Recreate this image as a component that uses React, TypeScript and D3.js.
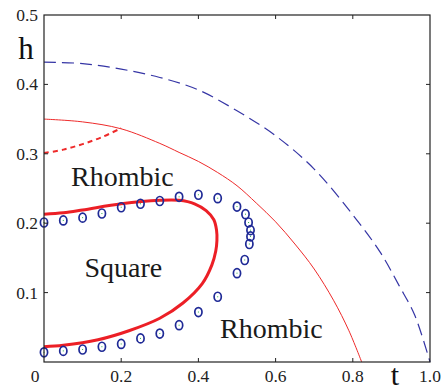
import React from 'react';
import * as d3 from 'd3';

type Pt = [number, number];

// boundaries, as [t, h]
const outerDashed: Pt[] = [
	[0, 0.432], [0.1, 0.430], [0.2, 0.422], [0.3, 0.410], [0.4, 0.392], [0.5, 0.362],
	[0.6, 0.326], [0.7, 0.278], [0.8, 0.212], [0.87, 0.159], [0.92, 0.11], [0.96, 0.068], [1.0, 0],
];

const thinRed: Pt[] = [
	[0, 0.350], [0.1, 0.346], [0.2, 0.336], [0.3, 0.315], [0.35, 0.302], [0.4, 0.289],
	[0.45, 0.273], [0.5, 0.254], [0.55, 0.229], [0.6, 0.202], [0.65, 0.170], [0.7, 0.134],
	[0.75, 0.089], [0.79, 0.045], [0.823, 0],
];

const shortDashed: Pt[] = [
	[0, 0.301], [0.05, 0.306], [0.1, 0.314], [0.15, 0.324], [0.2, 0.337],
];

const squareBoundary: Pt[] = [
	[0, 0.213], [0.05, 0.215], [0.1, 0.219], [0.2, 0.228], [0.3, 0.233], [0.35, 0.233],
	[0.39, 0.228], [0.42, 0.218], [0.44, 0.205], [0.447, 0.19], [0.448, 0.175], [0.445, 0.16],
	[0.435, 0.14], [0.41, 0.113], [0.36, 0.085], [0.3, 0.063], [0.22, 0.045], [0.14, 0.032],
	[0.05, 0.024], [0, 0.022],
];

const circles: Pt[] = [
	[0, 0.014], [0.05, 0.016], [0.1, 0.018], [0.15, 0.022], [0.2, 0.026], [0.25, 0.034],
	[0.3, 0.041], [0.35, 0.053], [0.4, 0.072], [0.45, 0.094], [0.5, 0.128], [0.52, 0.147],
	[0.532, 0.170], [0.535, 0.181], [0.535, 0.190], [0.53, 0.201], [0.522, 0.213], [0.5, 0.224],
	[0.45, 0.236], [0.4, 0.241], [0.35, 0.238], [0.3, 0.232], [0.25, 0.228], [0.2, 0.223],
	[0.15, 0.214], [0.1, 0.208], [0.05, 0.204], [0, 0.201],
];

const xTicks = [0, 0.2, 0.4, 0.6, 0.8, 1.0];
const xTickLabels = ['0', '0.2', '0.4', '0.6', '0.8', '1.0'];
const yTicks = [0.1, 0.2, 0.3, 0.4, 0.5];
const yTickLabels = ['0.1', '0.2', '0.3', '0.4', '0.5'];

const regionLabels = [
	{ text: 'Rhombic', t: 0.07, h: 0.253 },
	{ text: 'Square', t: 0.105, h: 0.123 },
	{ text: 'Rhombic', t: 0.456, h: 0.035 },
];

const width = 446;
const height = 390;
const left = 44, right = 430, top = 15, bottom = 362;

const serif: React.CSSProperties = { fontFamily: "'Liberation Serif', 'DejaVu Serif', 'Times New Roman', serif" };

const App: React.FC = () => {
	const x = d3.scaleLinear().domain([0, 1]).range([left, right]);
	const y = d3.scaleLinear().domain([0, 0.5]).range([bottom, top]);

	const line = d3.line<Pt>()
		.x(d => x(d[0]))
		.y(d => y(d[1]))
		.curve(d3.curveCatmullRom);

	const tick = 4;

	return (
		<svg width={width} height={height} style={{ position: 'absolute', left: 0, top: 0, background: '#fff' }}>
			<path d={line(outerDashed) ?? ''} fill="none" stroke="#3535a5" strokeWidth={1.2} strokeDasharray="12,6" />
			<path d={line(thinRed) ?? ''} fill="none" stroke="#ee2a2a" strokeWidth={1} />
			<path d={line(shortDashed) ?? ''} fill="none" stroke="#ee2a2a" strokeWidth={2} strokeDasharray="5,4" />
			<path d={line(squareBoundary) ?? ''} fill="none" stroke="#ec1f26" strokeWidth={3} />

			{circles.map((d, i) => (
				<g key={i}>
					<ellipse cx={x(d[0])} cy={y(d[1])} rx={3.6} ry={4.5} fill="none" stroke="#1f2a96" strokeWidth={1.7} />
					<rect x={x(d[0]) - 0.5} y={y(d[1]) - 0.5} width={1} height={1} fill="#2bb34a" />
				</g>
			))}

			{/* frame */}
			<rect x={left} y={top} width={right - left} height={bottom - top} fill="none" stroke="#222" strokeWidth={1.2} />

			{xTicks.slice(1, -1).map(t => (
				<g key={t} stroke="#222" strokeWidth={1}>
					<line x1={x(t)} x2={x(t)} y1={bottom} y2={bottom - tick} />
					<line x1={x(t)} x2={x(t)} y1={top} y2={top + tick} />
				</g>
			))}
			{yTicks.slice(0, -1).map(h => (
				<g key={h} stroke="#222" strokeWidth={1}>
					<line x1={left} x2={left + tick} y1={y(h)} y2={y(h)} />
					<line x1={right} x2={right - tick} y1={y(h)} y2={y(h)} />
				</g>
			))}

			{xTicks.map((t, i) => (
				<text key={t} style={serif} x={i === 0 ? x(t) - 9 : x(t)} y={382} fontSize={17.5} textAnchor="middle" fill="#222">
					{xTickLabels[i]}
				</text>
			))}
			{yTicks.map((h, i) => (
				<text key={h} style={serif} x={38} y={y(h) + 6} fontSize={17.5} textAnchor="end" fill="#222">
					{yTickLabels[i]}
				</text>
			))}

			<text style={serif} x={26} y={59} fontSize={31} textAnchor="middle" fill="#111">h</text>
			<text style={serif} x={395} y={385} fontSize={30} textAnchor="middle" fill="#111">t</text>

			{regionLabels.map((l, i) => (
				<text key={i} style={serif} x={x(l.t)} y={y(l.h)} fontSize={28} fill="#1a1a1a">{l.text}</text>
			))}
		</svg>
	);
};

export default App;
